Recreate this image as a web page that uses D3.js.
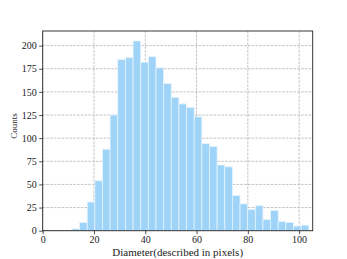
<!DOCTYPE html>
<html>
<head>
<meta charset="utf-8">
<script src="https://cdn.jsdelivr.net/npm/d3@7"></script>
<style>
  body { margin: 0; background: #fff; }
  text { font-family: "Liberation Serif", "Times New Roman", serif; fill: #222; }
</style>
</head>
<body>
<div id="chart"></div>
<script>
// histogram counts, one per bin
const counts = [2, 9, 31, 54, 88, 125, 185, 187, 205, 182, 188, 176, 159, 144, 137, 133,
                123, 94, 91, 71, 69, 38, 29, 23, 27, 12, 22, 10, 9, 5, 6];
const binStart = 11.4;
const binWidth = 2.98;
const xTicks = [0, 20, 40, 60, 80, 100];
const yTicks = [0, 25, 50, 75, 100, 125, 150, 175, 200];

const bins = counts.map((c, i) => ({ x0: binStart + i * binWidth, x1: binStart + (i + 1) * binWidth, count: c }));

const width = 347, height = 259;
const margin = { top: 31, left: 42.7, right: 34.3, bottom: 28.3 };
const innerW = width - margin.left - margin.right;
const innerH = height - margin.top - margin.bottom;

const svg = d3.select("#chart").append("svg").attr("width", width).attr("height", height);
const g = svg.append("g").attr("transform", `translate(${margin.left},${margin.top})`);

const x = d3.scaleLinear().domain([0, 105.3]).range([0, innerW]);
const y = d3.scaleLinear().domain([0, 215.8]).range([innerH, 0]);

// grid behind bars
g.selectAll("line.gx").data(xTicks).join("line")
  .attr("class", "gx")
  .attr("x1", d => x(d)).attr("x2", d => x(d))
  .attr("y1", 0).attr("y2", innerH)
  .attr("stroke", "#b5b5b5").attr("stroke-width", 0.8).attr("stroke-dasharray", "2.6,1.2");
g.selectAll("line.gy").data(yTicks).join("line")
  .attr("class", "gy")
  .attr("x1", 0).attr("x2", innerW)
  .attr("y1", d => y(d)).attr("y2", d => y(d))
  .attr("stroke", "#b5b5b5").attr("stroke-width", 0.8).attr("stroke-dasharray", "2.6,1.2");

// bars
g.selectAll("rect.bar").data(bins).join("rect")
  .attr("class", "bar")
  .attr("x", d => x(d.x0))
  .attr("y", d => y(d.count))
  .attr("width", d => x(d.x1) - x(d.x0))
  .attr("height", d => innerH - y(d.count))
  .attr("fill", "#9fd4f8")
  .attr("stroke", "#e4f3fd")
  .attr("stroke-width", 0.8);

// axes
const xAxis = g.append("g").attr("transform", `translate(0,${innerH})`)
  .call(d3.axisBottom(x).tickValues(xTicks).tickSize(3.5).tickPadding(1.8));
const yAxis = g.append("g")
  .call(d3.axisLeft(y).tickValues(yTicks).tickSize(3.5).tickPadding(2.5));
[xAxis, yAxis].forEach(a => {
  a.select(".domain").remove();
  a.selectAll("line").attr("stroke", "#222").attr("stroke-width", 0.8);
  a.selectAll("text").style("font-family", '"Liberation Serif", serif').style("font-size", "10px").attr("fill", "#222");
});

// frame
g.append("rect").attr("width", innerW).attr("height", innerH)
  .attr("fill", "none").attr("stroke", "#222").attr("stroke-width", 0.9);

// labels
svg.append("text")
  .attr("x", margin.left + innerW / 2).attr("y", 255.5)
  .attr("text-anchor", "middle").style("font-size", "11px")
  .text("Diameter(described in pixels)");
svg.append("text")
  .attr("transform", "translate(17,126) rotate(-90)")
  .attr("text-anchor", "middle").style("font-size", "9px")
  .text("Counts");
</script>
</body>
</html>
